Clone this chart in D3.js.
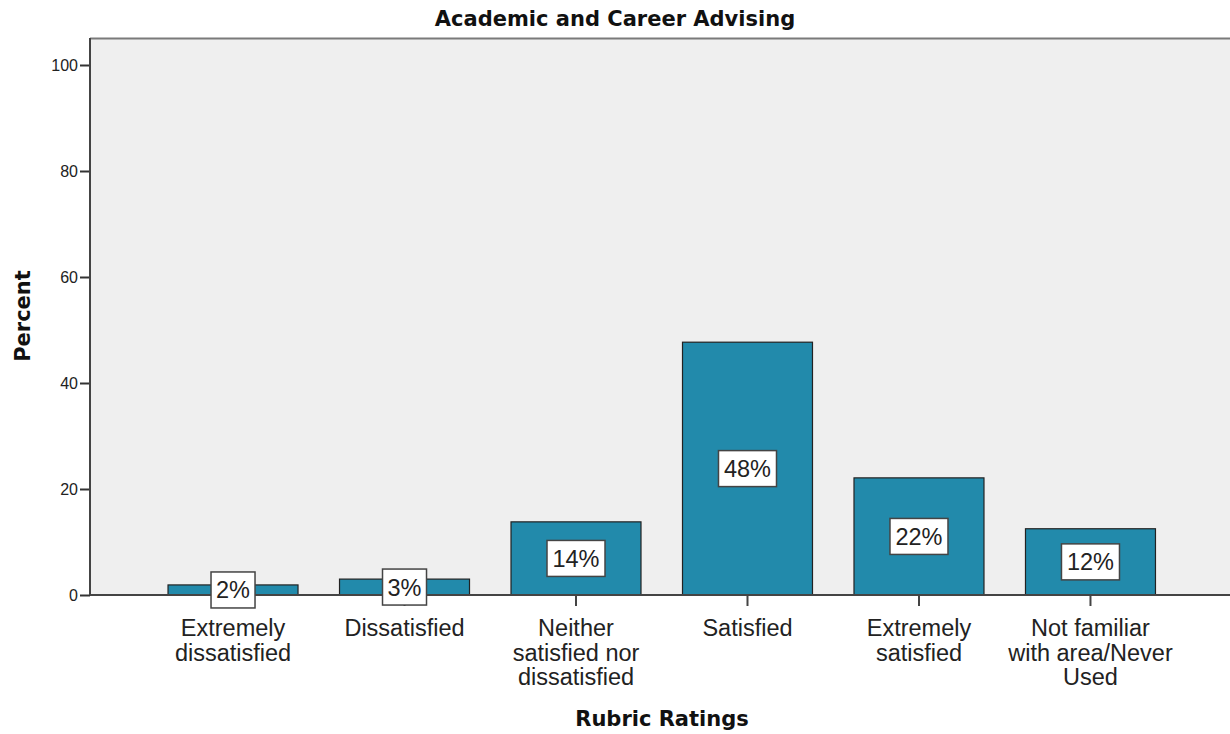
<!DOCTYPE html>
<html>
<head>
<meta charset="utf-8">
<script src="https://cdn.jsdelivr.net/npm/d3@7"></script>
<style>
  body { margin: 0; background: #fff; }
  svg { font-family: "Liberation Sans", Arial, sans-serif; }
</style>
</head>
<body>
<div id="viz"></div>
<script>
// categories and percents
var categories = ["Extremely dissatisfied", "Dissatisfied", "Neither satisfied nor dissatisfied",
                  "Satisfied", "Extremely satisfied", "Not familiar with area/Never Used"];
var catLines = [["Extremely", "dissatisfied"], ["Dissatisfied"], ["Neither", "satisfied nor", "dissatisfied"],
                ["Satisfied"], ["Extremely", "satisfied"], ["Not familiar", "with area/Never", "Used"]];
var percents = [1.9, 3.0, 13.8, 47.7, 22.1, 12.5];
var labels = ["2%", "3%", "14%", "48%", "22%", "12%"];
var yTicks = [0, 20, 40, 60, 80, 100];

var W = 1230, H = 734;
var margin = {top: 38, right: 0, bottom: 139, left: 90};
var width = W - margin.left - margin.right,
    height = H - margin.top - margin.bottom;

var svg = d3.select("#viz").append("svg")
    .attr("width", W).attr("height", H);

var g = svg.append("g")
    .attr("transform", "translate(" + margin.left + "," + margin.top + ")");

var x = d3.scaleBand().domain(categories)
    .range([0, 1143.5]).paddingInner(0.242).paddingOuter(0.455);
// y: 0 at 557, 100 at 27 in plot coords
var y = d3.scaleLinear().domain([0, 100]).range([557, 27]);

g.append("rect").attr("x", 0).attr("y", 0)
    .attr("width", width).attr("height", 557)
    .attr("fill", "#efefef");

// top border
g.append("line").attr("x1", 0).attr("x2", width).attr("y1", 0.5).attr("y2", 0.5)
    .attr("stroke", "#7a7a7a").attr("stroke-width", 2);

g.selectAll(".bar").data(percents).enter().append("rect")
    .attr("class", "bar")
    .attr("x", function(d, i) { return x(categories[i]); })
    .attr("width", x.bandwidth())
    .attr("y", function(d) { return y(d); })
    .attr("height", function(d) { return y(0) - y(d); })
    .attr("fill", "#228aab")
    .attr("stroke", "#222").attr("stroke-width", 1.2);

// axes
var yAxis = g.append("g")
    .call(d3.axisLeft(y).tickValues(yTicks).tickSize(10).tickSizeOuter(0).tickPadding(2));
yAxis.select(".domain").remove();
yAxis.selectAll(".tick line").attr("stroke", "#333").attr("stroke-width", 2);
yAxis.selectAll(".tick text").attr("font-size", 16).attr("fill", "#222")
    .attr("font-family", "Liberation Sans, Arial, sans-serif");

g.append("line").attr("x1", 0).attr("x2", 0).attr("y1", 0).attr("y2", y(0))
    .attr("stroke", "#444").attr("stroke-width", 2);
g.append("line").attr("x1", 0).attr("x2", width).attr("y1", y(0)).attr("y2", y(0))
    .attr("stroke", "#444").attr("stroke-width", 2);

g.selectAll(".xt").data(categories).enter().append("line")
    .attr("x1", function(d) { return x(d) + x.bandwidth() / 2; })
    .attr("x2", function(d) { return x(d) + x.bandwidth() / 2; })
    .attr("y1", y(0)).attr("y2", y(0) + 11)
    .attr("stroke", "#444").attr("stroke-width", 2);

// category labels
catLines.forEach(function(lines, i) {
  var cx = x(categories[i]) + x.bandwidth() / 2;
  var t = g.append("text").attr("text-anchor", "middle")
      .attr("font-size", 23.5).attr("fill", "#222");
  lines.forEach(function(l, j) {
    t.append("tspan").attr("x", cx).attr("y", y(0) + 41 + j * 24.5).text(l);
  });
});

// value labels in boxes
percents.forEach(function(d, i) {
  var cx = x(categories[i]) + x.bandwidth() / 2;
  var cy = (y(d) + y(0)) / 2;
  var bw = labels[i].length == 2 ? 44 : 58;
  g.append("rect").attr("x", cx - bw / 2).attr("y", cy - 18)
      .attr("width", bw).attr("height", 36)
      .attr("fill", "#fff").attr("stroke", "#444").attr("stroke-width", 1.5);
  g.append("text").attr("x", cx).attr("y", cy + 8.5)
      .attr("text-anchor", "middle").attr("font-size", 23.5).attr("fill", "#222")
      .text(labels[i]);
});

// titles
svg.append("text").attr("x", 615).attr("y", 26).attr("text-anchor", "middle")
    .attr("font-size", 21).attr("font-weight", "bold").attr("fill", "#111")
    .attr("font-family", "DejaVu Sans, sans-serif")
    .text("Academic and Career Advising");
svg.append("text").attr("x", 662).attr("y", 726).attr("text-anchor", "middle")
    .attr("font-size", 21).attr("font-weight", "bold").attr("fill", "#111")
    .attr("font-family", "DejaVu Sans, sans-serif")
    .text("Rubric Ratings");
svg.append("text").attr("transform", "translate(30,316) rotate(-90)")
    .attr("text-anchor", "middle")
    .attr("font-size", 21).attr("font-weight", "bold").attr("fill", "#111")
    .attr("font-family", "DejaVu Sans, sans-serif")
    .text("Percent");
</script>
</body>
</html>
